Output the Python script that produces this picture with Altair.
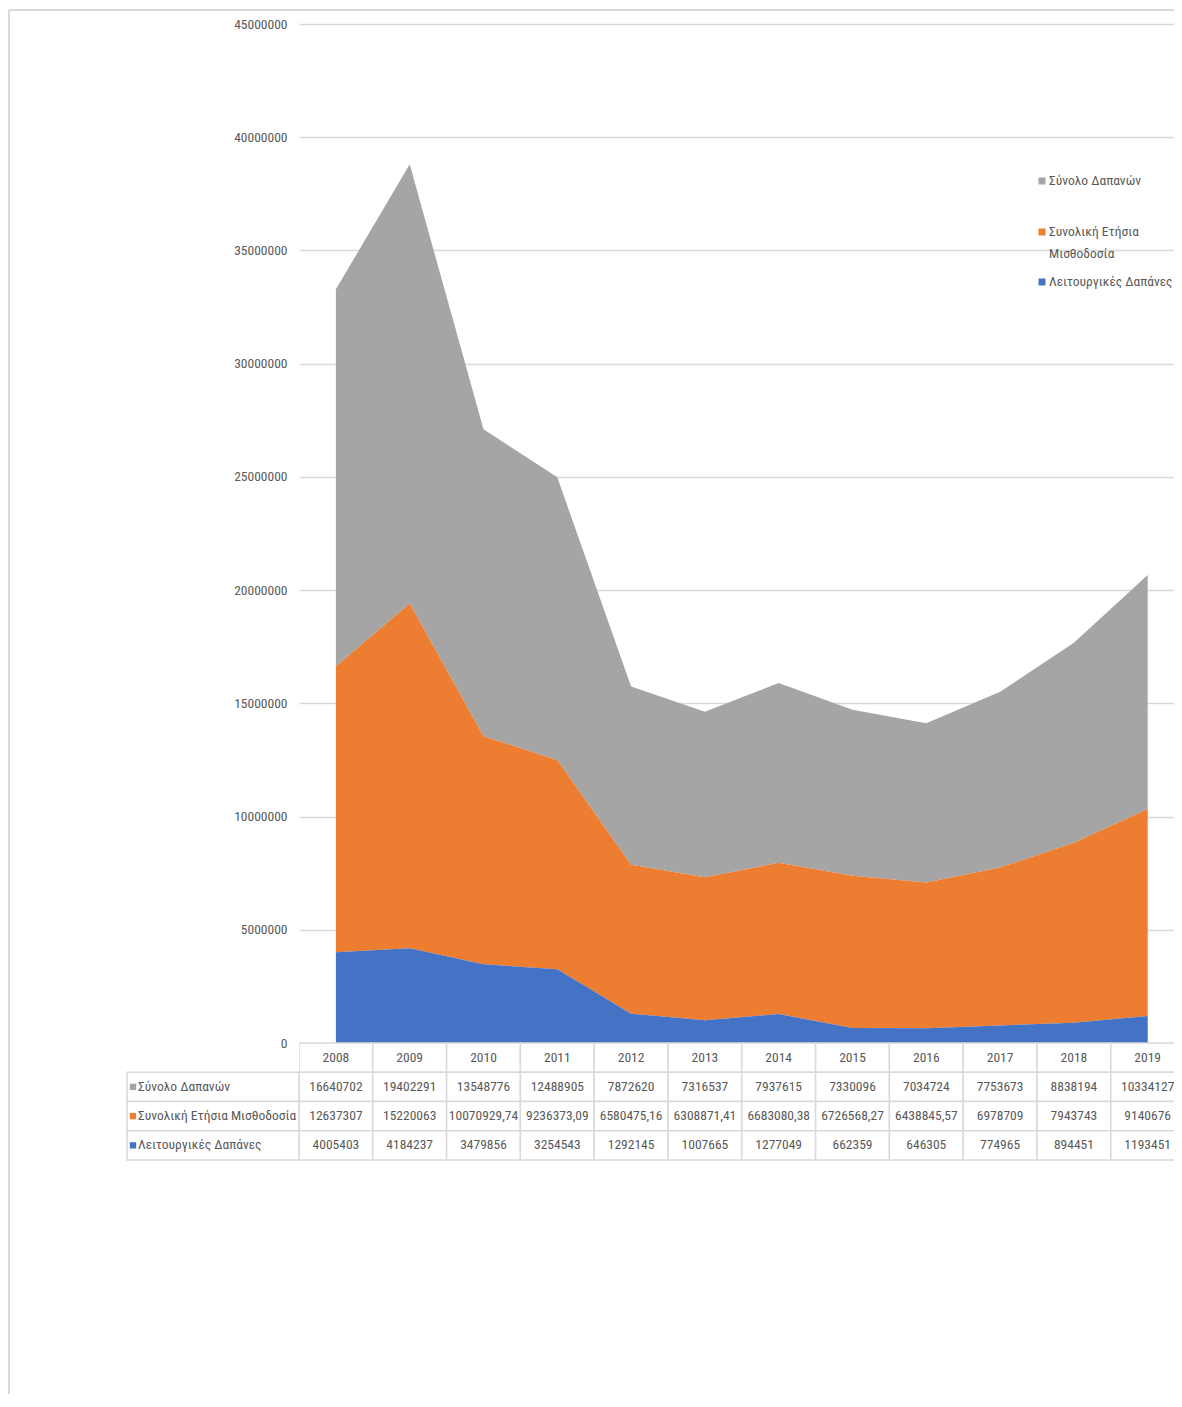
import altair as alt
import pandas as pd

years = [2008, 2009, 2010, 2011, 2012, 2013, 2014, 2015, 2016, 2017, 2018, 2019]
total = [16640702, 19402291, 13548776, 12488905, 7872620, 7316537, 7937615,
         7330096, 7034724, 7753673, 8838194, 10334127]
payroll = [12637307, 15220063, 10070929.74, 9236373.09, 6580475.16, 6308871.41,
           6683080.38, 6726568.27, 6438845.57, 6978709, 7943743, 9140676]
operating = [4005403, 4184237, 3479856, 3254543, 1292145, 1007665, 1277049,
             662359, 646305, 774965, 894451, 1193451]
series_names = ["Σύνολο Δαπανών", "Συνολική Ετήσια Μισθοδοσία", "Λειτουργικές Δαπάνες"]
series_colors = ["#A5A5A5", "#ED7D31", "#4472C4"]
y_ticks = [0, 5000000, 10000000, 15000000, 20000000, 25000000,
           30000000, 35000000, 40000000, 45000000]

FONT = "Liberation Sans Narrow, Roboto Condensed, DejaVu Sans Condensed, Liberation Sans"
TXT = "#595959"
GRID = "#D9D9D9"
FS = 13.5


def fmt(v):
    if float(v).is_integer():
        return str(int(v))
    return f"{v:.2f}".replace(".", ",")


series_values = [total, payroll, operating]
stack_order = [2, 1, 0]

recs = []
for name, vals, o in zip(series_names, series_values, stack_order):
    for yr, v in zip(years, vals):
        recs.append({"year": yr, "series": name, "value": v, "label": fmt(v),
                     "ord": o, "row": name})
df = pd.DataFrame(recs)

hdr = pd.DataFrame({"year": years, "row": [""] * len(years),
                    "label": [str(y) for y in years]})
cells = pd.concat([hdr, df[["year", "row", "label"]]], ignore_index=True)
rows_df = pd.DataFrame({"row": series_names, "series": series_names})
one = pd.DataFrame({"a": [0]})

W = 875
H = 1140
BAND = 73.8
x_scale = alt.Scale(domain=[2007.5, 2007.5 + W / BAND], nice=False, zero=False)
color_scale = alt.Scale(domain=series_names, range=series_colors)
row_domain = [""] + series_names
row_scale = alt.Scale(type="band", domain=row_domain, range=[1019, 1136],
                      paddingInner=0, paddingOuter=0)

area = alt.Chart(df).mark_area(opacity=1).encode(
    x=alt.X("year:Q", scale=x_scale, axis=None),
    y=alt.Y("value:Q", stack="zero",
            scale=alt.Scale(domain=[0, 45000000], range=[1019, 0], nice=False, zero=True),
            axis=alt.Axis(values=y_ticks, format="d", grid=True, gridColor=GRID,
                          gridWidth=1.5, domain=False, ticks=False, labelPadding=12,
                          labelFont=FONT, labelFontSize=FS, labelColor=TXT, title=None)),
    color=alt.Color("series:N", scale=color_scale, legend=None),
    order=alt.Order("ord:Q", sort="ascending"),
)

cell_rects = alt.Chart(cells).transform_calculate(
    x0="datum.year - 0.5", x1="datum.year + 0.5"
).mark_rect(fill="white", stroke=GRID, strokeWidth=1.5, clip=True).encode(
    x=alt.X("x0:Q", scale=x_scale, axis=None),
    x2="x1:Q",
    y=alt.Y("row:N", scale=row_scale, axis=None),
)

cell_text = alt.Chart(cells).mark_text(font=FONT, fontSize=FS, color=TXT,
                                       align="center", baseline="middle", clip=True).encode(
    x=alt.X("year:Q", scale=x_scale, axis=None),
    y=alt.Y("row:N", scale=row_scale, axis=None),
    text="label:N",
)

label_rects = alt.Chart(rows_df).mark_rect(fill="white", stroke=GRID, strokeWidth=1.5).encode(
    x=alt.value(-172), x2=alt.value(0),
    y=alt.Y("row:N", scale=row_scale, axis=None),
)
label_sq = alt.Chart(rows_df).mark_point(shape="square", filled=True, size=40, opacity=1).encode(
    x=alt.value(-166),
    y=alt.Y("row:N", scale=row_scale, axis=None),
    color=alt.Color("series:N", scale=color_scale, legend=None),
)
label_txt = alt.Chart(rows_df).mark_text(font=FONT, fontSize=FS, color=TXT,
                                         align="left", baseline="middle").encode(
    x=alt.value(-161),
    y=alt.Y("row:N", scale=row_scale, axis=None),
    text="series:N",
)

table = alt.layer(cell_rects, cell_text, label_rects, label_sq, label_txt)

# legend
leg_df = pd.DataFrame({"series": series_names})
leg_y = [157, 208, 258]
leg_layers = []
for name, yy in zip(series_names, leg_y):
    base = alt.Chart(leg_df).transform_filter(alt.datum.series == name)
    leg_layers.append(base.mark_point(shape="square", filled=True, size=49, opacity=1).encode(
        x=alt.value(743), y=alt.value(yy),
        color=alt.Color("series:N", scale=color_scale, legend=None)))
    leg_layers.append(base.transform_calculate(
        lbl="replace(datum.series, 'Ετήσια ', 'Ετήσια\\n')"
    ).mark_text(font=FONT, fontSize=FS, color=TXT, align="left", baseline="top",
                lineBreak="\n", lineHeight=22).encode(
        x=alt.value(750), y=alt.value(yy - 7), text="lbl:N"))

frame_top = alt.Chart(one).mark_rule(color=GRID, strokeWidth=2).encode(
    x=alt.value(-290), x2=alt.value(W), y=alt.value(-14))
frame_left = alt.Chart(one).mark_rule(color=GRID, strokeWidth=2).encode(
    x=alt.value(-290), y=alt.value(-14), y2=alt.value(1370))

chart = alt.layer(area, table, *leg_layers, frame_top, frame_left).resolve_scale(
    y="independent"
).properties(
    width=W, height=H,
    autosize=alt.AutoSizeParams(type="none"),
    padding={"left": 291, "top": 16, "right": 0, "bottom": 232},
).configure_view(stroke=None)

chart.save("out.html", embed_options={"renderer": "svg", "actions": False})
